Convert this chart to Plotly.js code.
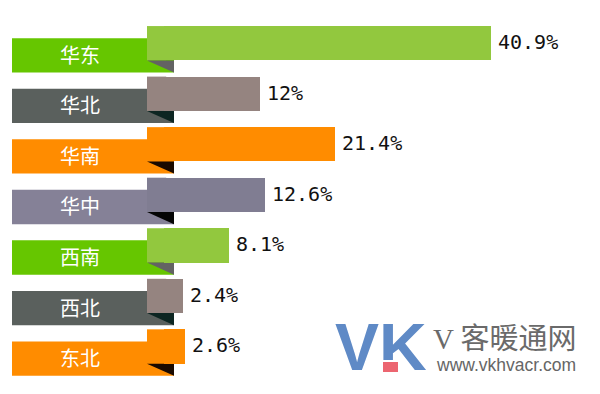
<!DOCTYPE html>
<html>
<head>
<meta charset="utf-8">
<script src="https://cdn.plot.ly/plotly-3.0.1.min.js"></script>
<style>html,body{margin:0;padding:0;background:#fff;}#chart{width:600px;height:394px;}</style>
</head>
<body>
<div id="chart"></div>
<script>
// ---- data ----
const categories = ['华东', '华北', '华南', '华中', '西南', '西北', '东北'];
const values = [40.9, 12, 21.4, 12.6, 8.1, 2.4, 2.6];

// ---- styles ----
const labelColors = ['#66c600', '#5a605d', '#ff8c00', '#858197', '#66c600', '#5a605d', '#ff8c00'];
const barColors   = ['#92c83e', '#958480', '#ff8c00', '#807d92', '#92c83e', '#958480', '#ff8c00'];
const foldColors  = ['#636363', '#0d2622', '#1a0a00', '#050505', '#636363', '#0d2622', '#1a0a00'];

const rows = categories.map((_, i) => i);
const BAR_W = 0.679;
const HALF = BAR_W / 2;
const DROP = 0.24;          // ribbon label offset below the bar
const TAB_X = -2.1;         // bar tab start (overlapping the label ribbon)
const LBL_X0 = -18.975, LBL_X1 = 1.275;

const shapes = [];
rows.forEach(i => {
  shapes.push({type: 'rect', xref: 'x', yref: 'y', layer: 'below',
    x0: LBL_X0, x1: LBL_X1, y0: i - HALF + DROP, y1: i + HALF + DROP,
    fillcolor: labelColors[i], line: {width: 0}});
  shapes.push({type: 'rect', xref: 'x', yref: 'y', layer: 'below',
    x0: TAB_X, x1: 0.3, y0: i - HALF, y1: i + HALF,
    fillcolor: barColors[i], line: {width: 0}});
  shapes.push({type: 'path', xref: 'x', yref: 'y', layer: 'below',
    path: `M ${TAB_X} ${i + HALF} L ${LBL_X1} ${i + HALF} L ${LBL_X1} ${i + HALF + DROP} Z`,
    fillcolor: foldColors[i], line: {width: 0}});
});

const annotations = rows.map(i => ({
  xref: 'x', yref: 'y', x: -10.475, y: i + DROP, text: categories[i],
  showarrow: false, xanchor: 'center', yanchor: 'middle', yshift: 1,
  font: {family: 'Noto Sans CJK SC', size: 20, color: '#ffffff'}
}));

// value labels
rows.forEach(i => annotations.push({
  xref: 'x', yref: 'y', x: values[i], y: i, text: values[i] + '%',
  showarrow: false, xanchor: 'left', yanchor: 'middle', xshift: 5, yshift: 1,
  font: {family: 'DejaVu Sans Mono', size: 20, color: '#111111'}
}));

// watermark
annotations.push({xref: 'paper', yref: 'paper', x: 333 / 600, y: 1 - 347 / 394,
  xanchor: 'left', yanchor: 'middle', showarrow: false, text: '<b>VK</b>',
  font: {family: 'Liberation Sans', size: 66, color: '#5f8ac6'}});
annotations.push({xref: 'paper', yref: 'paper', x: 390.5 / 600, y: 1 - 367 / 394,
  xanchor: 'center', yanchor: 'middle', showarrow: false, text: '\u00a0',
  width: 15, height: 10, bgcolor: '#ec6570', bordercolor: '#ffffff', borderwidth: 2, borderpad: 0,
  font: {size: 6}});
annotations.push({xref: 'paper', yref: 'paper', x: 431 / 600, y: 1 - 336 / 394,
  xanchor: 'left', yanchor: 'middle', showarrow: false,
  text: '<span style="font-family:Liberation Serif">V</span> 客暖通网',
  font: {family: 'Noto Sans CJK SC', size: 29, color: '#6a6a6a'}});
annotations.push({xref: 'paper', yref: 'paper', x: 434 / 600, y: 1 - 365 / 394,
  xanchor: 'left', yanchor: 'middle', showarrow: false, text: 'www.vkhvacr.com',
  font: {family: 'Liberation Sans', size: 17.5, color: '#666666'}});

const trace = {
  type: 'bar', orientation: 'h',
  y: rows, x: values, width: BAR_W,
  marker: {color: barColors, line: {width: 0}},
  hoverinfo: 'skip'
};

const layout = {
  width: 600, height: 394,
  margin: {l: 0, r: 0, t: 0, b: 0},
  paper_bgcolor: '#ffffff', plot_bgcolor: '#ffffff',
  showlegend: false,
  xaxis: {range: [-20.475, 54.525], visible: false, fixedrange: true},
  yaxis: {range: [6.94, -0.855], visible: false, fixedrange: true},
  shapes: shapes,
  annotations: annotations,
  bargap: 0
};

Plotly.newPlot('chart', [trace], layout, {displayModeBar: false, staticPlot: true});
</script>
</body>
</html>
